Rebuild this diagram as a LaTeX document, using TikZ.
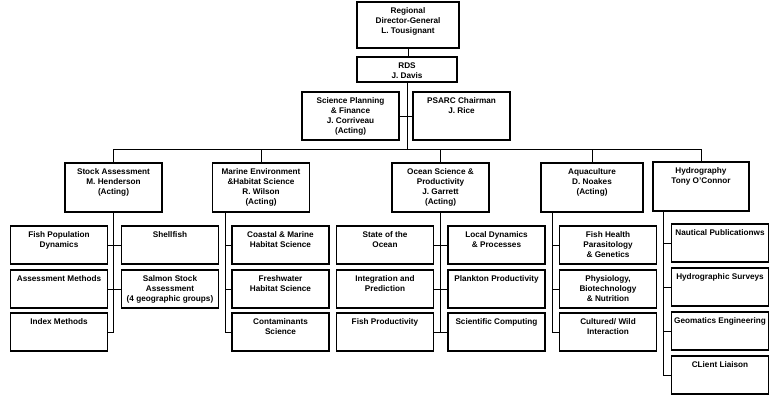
\documentclass[tikz,border=0pt]{standalone}
\usepackage{fontspec}
\setmainfont{Liberation Sans}

% text sits at the top of each box
\newcommand{\boxtext}[3]{\parbox[c][#2][t]{#1}{\centering\vspace*{4.5pt}\strut#3\par}}
\newcommand{\headtext}[1]{\boxtext{97pt}{49pt}{#1}}
\newcommand{\subtext}[1]{\boxtext{97pt}{38pt}{#1}}

\begin{document}
\begin{tikzpicture}[x=1pt,y=-1pt,
  unit/.style={draw,line width=1.1pt,inner sep=0pt,
    font=\bfseries\fontsize{8.2}{10}\selectfont},
  link/.style={line width=0.6pt}
]
  \useasboundingbox (0,0) rectangle (778,404);

  % top of the chart
  \node[unit] (rdg) at (408,25) {\boxtext{102pt}{46pt}{Regional\\Director-General\\L. Tousignant}};
  \node[unit] (rds) at (407,69.5) {\boxtext{100pt}{25pt}{RDS\\J. Davis}};
  \node[unit] (spf) at (350.5,116) {\boxtext{97pt}{48pt}{Science Planning\\\& Finance\\J. Corriveau\\(Acting)}};
  \node[unit] (psarc) at (461.5,116) {\boxtext{97pt}{48pt}{PSARC Chairman\\J. Rice}};

  % divisions
  \node[unit] (stock) at (113.5,187.5) {\headtext{Stock Assessment\\M. Henderson\\(Acting)}};
  \node[unit] (marine) at (261,187.5) {\headtext{Marine Environment\\\&Habitat Science\\R. Wilson\\(Acting)}};
  \node[unit] (ocean) at (440.5,187.5) {\headtext{Ocean Science \&\\Productivity\\J. Garrett\\(Acting)}};
  \node[unit] (aqua) at (592,187.5) {\boxtext{102pt}{49pt}{Aquaculture\\D. Noakes\\(Acting)}};
  \node[unit] (hydro) at (701,186.5) {\boxtext{96pt}{49pt}{Hydrography\\Tony O'Connor}};

  % sections
  \node[unit] (fishpop) at (59,245) {\subtext{Fish Population\\Dynamics}};
  \node[unit] (shellfish) at (170,245) {\subtext{Shellfish}};
  \node[unit] (assess) at (59,289) {\subtext{Assessment Methods}};
  \node[unit] (salmon) at (170,289) {\subtext{Salmon Stock\\Assessment\\(4 geographic groups)}};
  \node[unit] (index) at (59,332) {\subtext{Index Methods}};

  \node[unit] (coastal) at (280.5,245) {\subtext{Coastal \& Marine\\Habitat Science}};
  \node[unit] (fresh) at (280.5,289) {\subtext{Freshwater\\Habitat Science}};
  \node[unit] (contam) at (280.5,332) {\subtext{Contaminants\\Science}};

  \node[unit] (ocstate) at (385,245) {\subtext{State of the\\Ocean}};
  \node[unit] (integ) at (385,289) {\subtext{Integration and\\Prediction}};
  \node[unit] (fishprod) at (385,332) {\subtext{Fish Productivity}};
  \node[unit] (locdyn) at (496.5,245) {\subtext{Local Dynamics\\\& Processes}};
  \node[unit] (plankton) at (496.5,289) {\subtext{Plankton Productivity}};
  \node[unit] (scicomp) at (496.5,332) {\subtext{Scientific Computing}};

  \node[unit] (fishhealth) at (608,245) {\subtext{Fish Health\\Parasitology\\\& Genetics}};
  \node[unit] (physio) at (608,289) {\subtext{Physiology,\\Biotechnology\\\& Nutrition}};
  \node[unit] (cultured) at (608,332) {\subtext{Cultured/ Wild\\Interaction}};

  \node[unit] (nautical) at (720,243) {\subtext{Nautical Publicationws}};
  \node[unit] (hsurveys) at (720,287) {\subtext{Hydrographic Surveys}};
  \node[unit] (geomatics) at (720,331) {\subtext{Geomatics Engineering}};
  \node[unit] (client) at (720,375) {\subtext{CLient Liaison}};

  % lines
  \coordinate (bus) at (0,149);
  \draw[link] (rdg.south) -- (rdg.south |- rds.north);
  \draw[link] (rds.south) -- (rds.south |- bus);
  \draw[link] (spf.east) -- (psarc.west);
  \draw[link] (stock.north) -- (stock.north |- bus) -- (hydro.north |- bus) -- (hydro.north);
  \foreach \d in {marine,ocean,aqua}
    \draw[link] (\d.north) -- (\d.north |- bus);

  \draw[link] (stock.south) |- (index.east);
  \draw[link] (fishpop.east) -- (shellfish.west);
  \draw[link] (assess.east) -- (salmon.west);

  \coordinate (mtrunk) at ([xshift=13pt]marine.south west);
  \foreach \s in {coastal,fresh,contam}
    \draw[link] (mtrunk) |- (\s.west);

  \draw[link] (ocean.south) -- (ocean.south |- fishprod.east);
  \foreach \a/\b in {ocstate/locdyn,integ/plankton,fishprod/scicomp}
    \draw[link] (\a.east) -- (\b.west);

  \coordinate (atrunk) at ([xshift=12pt]aqua.south west);
  \foreach \s in {fishhealth,physio,cultured}
    \draw[link] (atrunk) |- (\s.west);

  \coordinate (htrunk) at ([xshift=11pt]hydro.south west);
  \foreach \s in {nautical,hsurveys,geomatics,client}
    \draw[link] (htrunk) |- (\s.west);
\end{tikzpicture}
\end{document}
